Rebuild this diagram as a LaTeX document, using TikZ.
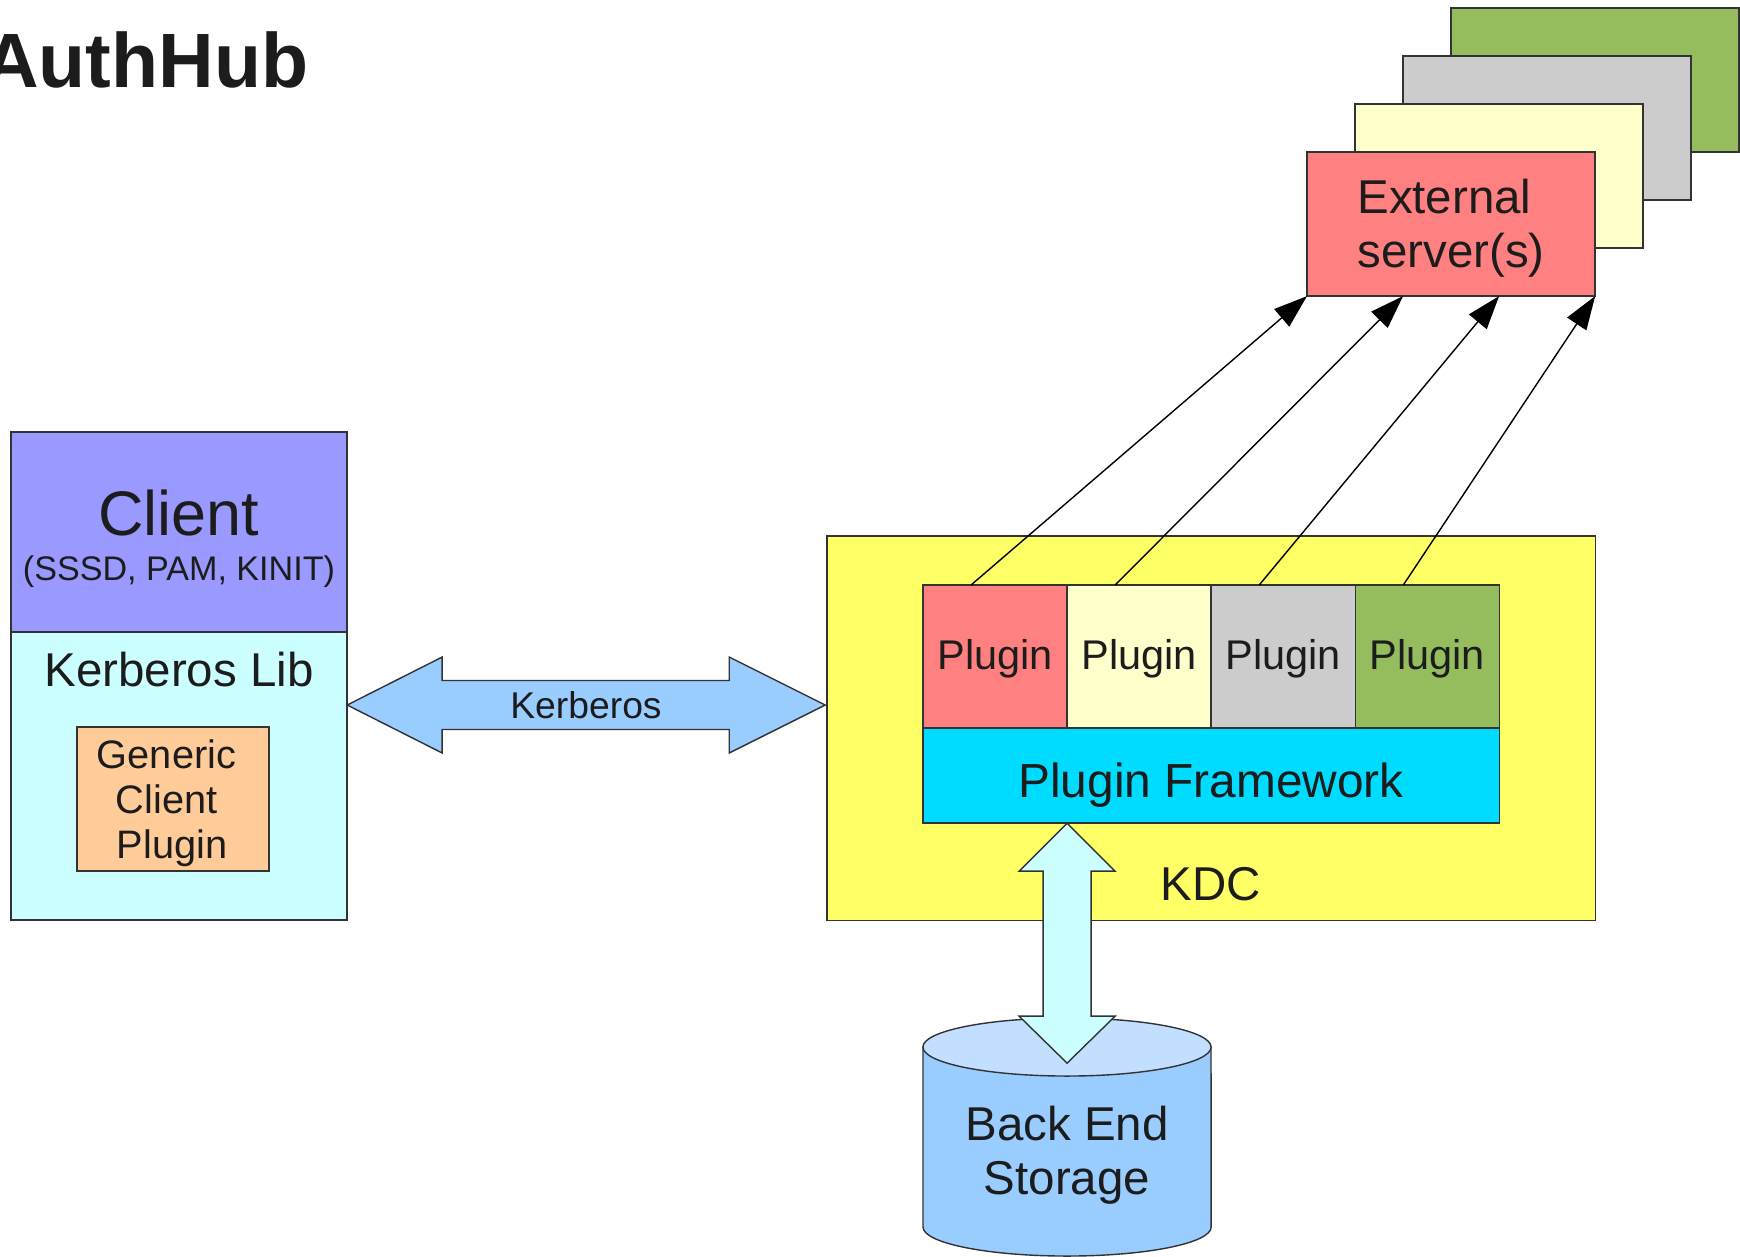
\documentclass[tikz,border=0pt]{standalone}
\usepackage{fontspec}
\setmainfont{Liberation Sans}
\usetikzlibrary{arrows.meta,calc,positioning}

\definecolor{clientpurple}{HTML}{9999FF}
\definecolor{libcyan}{HTML}{CCFFFF}
\definecolor{genericorange}{HTML}{FFCC99}
\definecolor{krbblue}{HTML}{99CCFF}
\definecolor{kdcyellow}{HTML}{FFFF66}
\definecolor{pluginred}{HTML}{FF8080}
\definecolor{pluginpale}{HTML}{FFFFCC}
\definecolor{plugingray}{HTML}{CCCCCC}
\definecolor{plugingreen}{HTML}{95BD5E}
\definecolor{frameworkcyan}{HTML}{00DCFF}
\definecolor{storetop}{HTML}{C2DFFF}
\definecolor{inkgray}{HTML}{1C1C1C}
\definecolor{edgegray}{HTML}{333333}

\begin{document}
\begin{tikzpicture}[
		x = 0.01cm, y = -0.01cm,
		> = {Triangle[length=9.5pt,width=6.5pt]},
		every node/.style = {text=inkgray},
		box/.style = {draw=edgegray, line width=0.4pt, inner sep=0pt, outer sep=0pt, anchor=north west},
		blockarrow/.style = {draw=edgegray, line width=0.4pt, line join=miter},
		serverbox/.style = {box, minimum width=2.88cm, minimum height=1.44cm},
		plugbox/.style = {box, minimum width=1.44cm, minimum height=1.43cm, text depth=1.1pt,
			font=\fontsize{11.8}{14}\selectfont},
		big/.style = {font=\fontsize{13.5}{15.4}\selectfont, align=center}
		]
		\useasboundingbox (0,0) rectangle (1740,1256);
		\node[anchor=base east, inner sep=0pt, font=\fontsize{21.9}{26}\selectfont\bfseries] (title) at (309,87) {AuthHub};

		\node[box, fill=clientpurple, minimum width=3.36cm, minimum height=2cm] (client) at (11,432) {};
		\node[anchor=base, font=\fontsize{17.9}{21}\selectfont] (clientname) at (179,535) {Client};
		\node[anchor=base, font=\fontsize{9.7}{11}\selectfont] (clientapps) at (179,580) {(SSSD, PAM, KINIT)};
		\node[box, fill=libcyan, minimum width=3.36cm, minimum height=2.88cm] (krblib) at (11,632) {};
		\node[anchor=base, font=\fontsize{13.5}{16}\selectfont] (krbname) at (179,686) {Kerberos Lib};
		\node[box, fill=genericorange, minimum width=1.92cm, minimum height=1.44cm] (generic) at (77,727) {};
		\node[align=center, font=\fontsize{11.3}{12.8}\selectfont] (generictext) at (172,803)
			{\mbox{Generic\ }\\\mbox{Client\ }\\Plugin};

		\draw[blockarrow, fill=krbblue] (krblib.north east) ++(0,73)
			-- ++(95,-48) -- ++(0,23.5) -- ++(287,0) -- ++(0,-23.5) -- ++(96,48)
			-- ++(-96,48) -- ++(0,-23.5) -- ++(-287,0) -- ++(0,23.5) -- cycle;
		\node[font=\fontsize{10.6}{12}\selectfont] (krbproto) at (586,705) {Kerberos};

		\node[box, fill=kdcyellow, minimum width=7.68cm, minimum height=3.84cm] (kdc) at (827,536) {};
		\node[plugbox, fill=pluginred] (plugA) at (923,585) {Plugin};
		\node[plugbox, fill=pluginpale, right=0pt of plugA] (plugB) {Plugin};
		\node[plugbox, fill=plugingray, right=0pt of plugB] (plugC) {Plugin};
		\node[plugbox, fill=plugingreen, right=0pt of plugC] (plugD) {Plugin};
		\node[box, fill=frameworkcyan, minimum width=5.76cm, minimum height=0.95cm] (framework) at (plugA.south west) {};
		\node[anchor=base, font=\fontsize{13.6}{16}\selectfont] (frameworkname) at (1211,797) {Plugin Framework};
		\node[big] (kdcname) at (1211,884) {KDC};

		\node[serverbox, fill=plugingreen] (extD) at (1451,8) {};
		\node[serverbox, fill=plugingray] (extC) at (1403,56) {};
		\node[serverbox, fill=pluginpale] (extB) at (1355,104) {};
		\node[serverbox, fill=pluginred] (extA) at (1307,152) {};
		\node[big] (extname) at (1451,228) {\mbox{External\ }\\server(s)};

		\draw[->, line width=0.4pt] ($(plugA.north west)!1/3!(plugA.north east)$) -- (extA.south west);
		\draw[->, line width=0.4pt] ($(plugB.north west)!1/3!(plugB.north east)$) -- ($(extA.south west)!1/3!(extA.south east)$);
		\draw[->, line width=0.4pt] ($(plugC.north west)!1/3!(plugC.north east)$) -- ($(extA.south west)!2/3!(extA.south east)$);
		\draw[->, line width=0.4pt] ($(plugD.north west)!1/3!(plugD.north east)$) -- (extA.south east);

		\draw[draw=edgegray, line width=0.4pt, fill=krbblue] (923,1047) -- (923,1227)
			arc[start angle=180, end angle=360, x radius=1.44cm, y radius=0.29cm] -- (1211,1047) -- cycle;
		\draw[draw=edgegray, line width=0.4pt, fill=storetop] (1067,1047) ellipse [x radius=1.44cm, y radius=0.29cm];
		\node[big] (storage) at (1067,1155) {Back End\\Storage};

		\draw[blockarrow, fill=libcyan] (plugA.south east |- framework.south)
			-- ++(48,48) -- ++(-24,0) -- ++(0,145) -- ++(24,0) -- ++(-48,47)
			-- ++(-48,-47) -- ++(24,0) -- ++(0,-145) -- ++(-24,0) -- cycle;
\end{tikzpicture}
\end{document}
